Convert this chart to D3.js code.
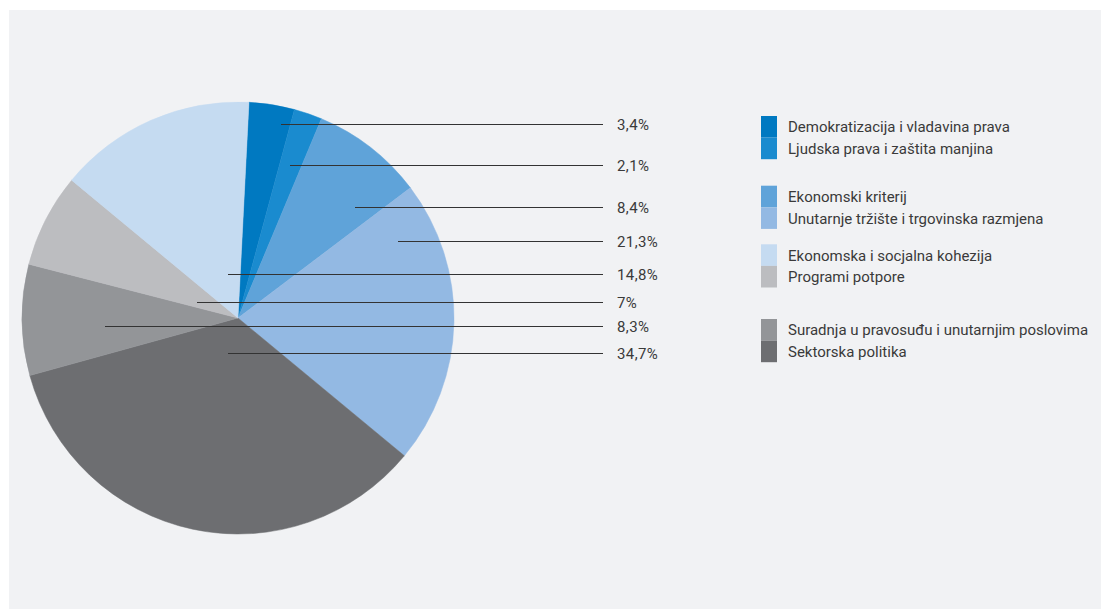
<!DOCTYPE html>
<html><head><meta charset="utf-8">
<script src="https://cdn.jsdelivr.net/npm/d3@7"></script>
<style>body{margin:0;background:#fff;}svg{display:block;}</style>
</head><body>
<svg id="c" width="1101" height="610"></svg>
<script>
const categories = ["Demokratizacija i vladavina prava","Ljudska prava i zaštita manjina","Ekonomski kriterij","Unutarnje tržište i trgovinska razmjena","Sektorska politika","Suradnja u pravosuđu i unutarnjim poslovima","Programi potpore","Ekonomska i socjalna kohezija"];
const values = [3.4, 2.1, 8.4, 21.3, 34.7, 8.3, 7, 14.8];
const valueLabels = ["3,4%","2,1%","8,4%","21,3%","34,7%","8,3%","7%","14,8%"];
const colors = ["#0079c1","#1a8bcf","#5fa3d9","#93b9e3","#6d6e71","#939598","#bcbdc0","#c5dbf1"];
// label order (top to bottom) and legend order
const labelOrder = [0,1,2,3,7,6,5,4];
const legendGroups = [[0,1],[2,3],[7,6],[5,4]];
// layout for leader lines (annotation placement)
const labelYs = [124,165,207,241,274,302,326,353];
const leaderStartX = [281,290,355,398,228,197,105,228];

const svg = d3.select("#c");
svg.append("rect").attr("x",9).attr("y",10).attr("width",1092).attr("height",599).attr("fill","#f1f2f4");

const cx = 238, cy = 318, R = 216;
const pie = d3.pie().sort(null).value(d=>d).startAngle(0.0508).endAngle(0.0508+2*Math.PI);
const arc = d3.arc().innerRadius(0).outerRadius(R);
const g = svg.append("g").attr("transform",`translate(${cx},${cy})`);
g.selectAll("path").data(pie(values)).join("path")
  .attr("d",arc).attr("fill",(d,i)=>colors[i])
  .attr("stroke",(d,i)=>colors[i]).attr("stroke-width",0.5);

const font = "Roboto, sans-serif";
const fs = 15;
const lab = svg.append("g");
labelOrder.forEach((idx,k)=>{
  const y = labelYs[k];
  lab.append("line").attr("x1",leaderStartX[k]).attr("x2",603).attr("y1",y+0.5).attr("y2",y+0.5)
    .attr("stroke","#333").attr("stroke-width",1);
  lab.append("text").attr("x",617).attr("y",y+5.5).attr("font-family",font).attr("font-size",fs)
    .attr("letter-spacing",0.4).attr("fill","#3a3a3a").text(valueLabels[idx]);
});

const groupTops = [116,185.7,244.3,319];
const itemH = 21.6;
const leg = svg.append("g");
legendGroups.forEach((grp,gi)=>{
  grp.forEach((idx,j)=>{
    const y = groupTops[gi] + j*itemH;
    leg.append("rect").attr("x",761).attr("y",y).attr("width",16).attr("height",itemH).attr("fill",colors[idx]);
    leg.append("text").attr("x",788).attr("y",y+itemH/2+5.5).attr("font-family",font).attr("font-size",fs)
      .attr("fill","#3a3a3a").text(categories[idx]);
  });
});
</script>
</body></html>
